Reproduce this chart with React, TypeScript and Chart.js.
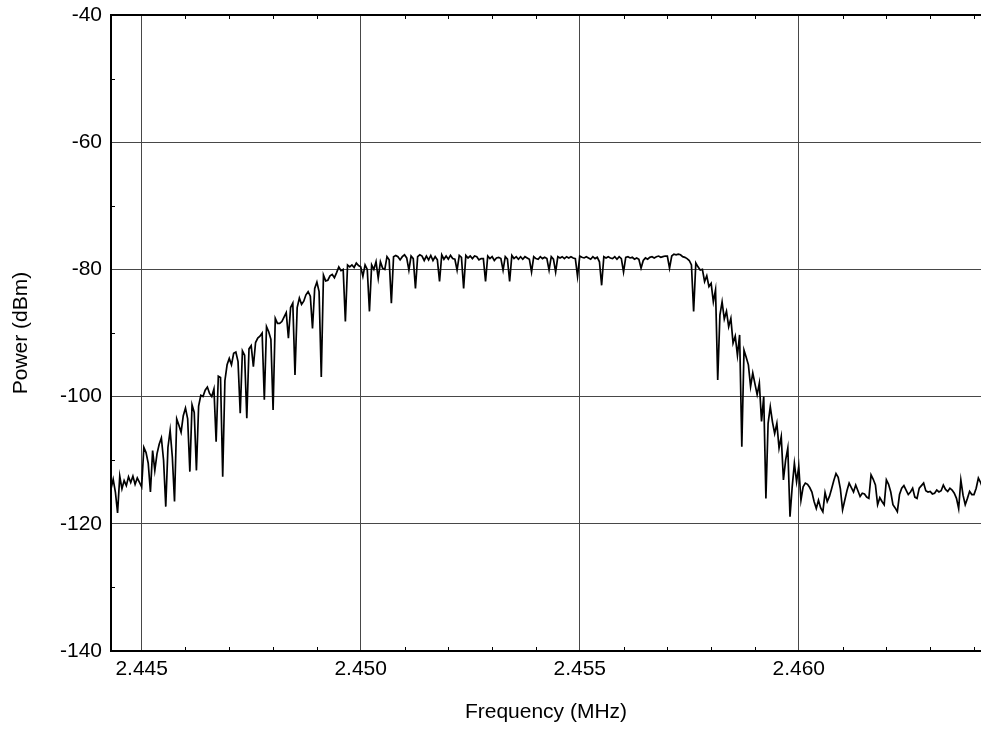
import React, { useEffect, useRef } from 'react';
import { Chart, registerables } from 'chart.js';

Chart.register(...registerables);

// Uniform frequency sweep (MHz axis units as labelled)
const FREQ_START = 2.4443;
const FREQ_STEP = 0.00005;
const X_MIN = 2.4443;
const X_MAX = 2.46416;
const Y_MIN = -140;
const Y_MAX = -40;

// Power readings (dBm), one per sweep point
const lowerSkirt = [
  -114.5, -113.0, -115.0, -118.3, -112.5, -114.5, -113.2, -114.0, -112.6, -113.5,
  -112.5, -113.8, -112.8, -113.5, -114.2, -108.0, -108.8, -110.5, -115.0, -108.5,
  -111.6, -109.0, -107.5, -106.5, -110.0, -117.3, -108.0, -105.3, -109.5, -116.5,
  -103.5, -104.5, -105.6, -103.0, -101.8, -103.5, -111.8, -101.3, -102.5, -111.6,
  -101.5, -99.8, -100.0, -99.0, -98.5, -99.5, -100.0, -98.8, -107.1, -96.8,
  -97.0, -112.6, -97.5, -95.0, -94.0, -95.0, -93.2, -93.0, -94.5, -102.6,
  -92.8, -93.5, -103.4, -92.5, -92.0, -95.3, -91.5, -90.8, -90.5, -90.0,
  -100.5, -89.0, -89.8, -91.0, -102.1, -87.7, -88.5, -88.5, -88.2, -87.5,
  -86.8, -90.8, -86.0, -85.3, -96.6, -86.0, -84.5, -85.5, -85.0, -84.0,
  -83.5, -84.2, -89.3, -83.0, -82.0, -83.5, -96.9, -80.9, -81.8, -81.7,
  -81.0, -80.8, -81.3, -80.5, -79.6, -80.2, -80.0, -88.2, -79.3, -79.6,
  -79.3, -79.7, -79.0, -79.4, -79.6, -81.1, -79.3, -80.0, -86.6, -79.3,
  -80.0, -78.8, -81.4, -78.8, -79.8, -80.0, -78.0, -78.5, -85.3, -78.0,
];

const passband = [
  -77.8, -78.0, -78.5, -78.0, -77.7, -78.2, -80.1, -77.9, -78.3, -83.0,
  -78.0, -77.7, -77.9, -78.6, -77.9, -78.5, -77.8, -78.6, -78.0, -78.5,
  -81.9, -77.7, -78.4, -77.9, -78.4, -77.8, -78.3, -78.4, -80.1, -77.8,
  -78.1, -83.0, -77.8, -78.2, -77.9, -78.3, -77.9, -78.0, -78.5, -78.3,
  -78.3, -81.9, -77.9, -78.3, -78.0, -78.6, -78.2, -78.1, -78.3, -80.1,
  -78.0, -78.4, -81.9, -77.8, -78.3, -78.0, -78.4, -78.0, -78.4, -78.0,
  -78.2, -78.4, -80.4, -78.0, -78.3, -78.4, -78.0, -78.3, -78.1, -78.3,
  -80.1, -78.0, -78.4, -80.4, -78.0, -78.2, -78.0, -78.3, -78.0, -78.2,
  -78.0, -78.2, -78.3, -81.1, -77.9, -78.1, -78.2, -78.0, -78.2, -78.4,
  -78.0, -78.3, -78.1, -78.8, -82.5, -78.0, -78.2, -78.0, -78.2, -78.3,
  -78.0, -78.4, -78.0, -78.3, -80.4, -78.1, -78.0, -78.2, -78.1, -78.4,
  -78.2, -78.4, -79.8, -78.6, -78.2, -78.4, -78.1, -78.0, -78.2, -78.0,
  -77.9, -78.1, -78.0, -77.9, -77.9, -79.8, -77.9, -77.6, -77.7, -77.6,
  -77.7, -78.0, -78.1, -78.3, -78.6, -79.3, -86.6, -79.0, -79.6, -80.1,
];

const upperSkirt = [
  -80.0, -81.9, -81.0, -82.7, -82.2, -85.1, -83.2, -97.4, -87.2, -85.1,
  -87.8, -86.6, -89.0, -87.7, -91.6, -90.5, -93.5, -90.3, -107.9, -92.7,
  -93.8, -95.0, -98.4, -96.3, -98.0, -99.7, -97.9, -103.9, -100.0, -116.0,
  -104.2, -101.6, -104.0, -105.8, -104.2, -108.1, -106.3, -113.1, -110.0, -108.1,
  -118.9, -114.2, -110.5, -113.4, -111.0, -116.3, -114.2, -113.6, -113.8, -114.3,
];

const noiseFloor = [
  -115.0, -116.5, -117.6, -116.3, -117.5, -118.1, -115.1, -116.5, -115.7, -114.5,
  -113.2, -112.1, -112.7, -114.5, -117.8, -116.3, -114.8, -113.6, -114.3, -115.0,
  -113.9, -114.8, -115.7, -115.2, -115.3, -115.8, -116.0, -112.3, -113.0, -113.9,
  -117.0, -115.9, -116.5, -117.0, -113.1, -113.8, -115.0, -117.0, -117.5, -118.1,
  -115.4, -114.4, -114.0, -114.7, -115.4, -115.0, -114.4, -115.8, -116.0, -114.4,
  -114.0, -113.6, -114.8, -115.0, -114.9, -115.3, -115.2, -114.7, -115.0, -114.8,
  -113.9, -114.6, -114.9, -114.4, -114.7, -115.2, -116.0, -117.6, -113.1, -115.5,
  -117.0, -116.0, -114.9, -115.4, -115.4, -114.4, -112.8, -113.5, -114.4, -114.0, -114.5,
];

const xTicks = [
  2.445, 2.446, 2.447, 2.448, 2.449, 2.45, 2.451, 2.452, 2.453, 2.454,
  2.455, 2.456, 2.457, 2.458, 2.459, 2.46, 2.461, 2.462, 2.463, 2.464,
];
const xMajor = [2.445, 2.45, 2.455, 2.46];
const yTicks = [-140, -130, -120, -110, -100, -90, -80, -70, -60, -50, -40];
const yMajor = [-140, -120, -100, -80, -60, -40];

const FONT = 'Liberation Sans, Arial, Helvetica, sans-serif';

const isXMajor = (v: number) => xMajor.some((m) => Math.abs(m - v) < 1e-7);
const isYMajor = (v: number) => yMajor.some((m) => Math.abs(m - v) < 1e-7);

const framePlugin = {
  id: 'frameAndMinorTicks',
  afterDatasetsDraw(chart: any) {
    const { ctx, chartArea, scales } = chart;
    const { left, top, right, bottom } = chartArea;
    const xs = scales.x;
    const ys = scales.y;
    ctx.save();
    ctx.strokeStyle = '#000';
    ctx.lineWidth = 1;
    ctx.beginPath();
    xTicks.forEach((v) => {
      if (isXMajor(v)) return;
      const px = Math.round(xs.getPixelForValue(v)) + 0.5;
      ctx.moveTo(px, bottom);
      ctx.lineTo(px, bottom - 4);
      ctx.moveTo(px, top);
      ctx.lineTo(px, top + 4);
    });
    yTicks.forEach((v) => {
      if (isYMajor(v)) return;
      const py = Math.round(ys.getPixelForValue(v)) + 0.5;
      ctx.moveTo(left, py);
      ctx.lineTo(left + 4, py);
    });
    ctx.stroke();
    ctx.lineWidth = 2;
    ctx.beginPath();
    ctx.moveTo(right + 2, top);
    ctx.lineTo(left, top);
    ctx.lineTo(left, bottom);
    ctx.lineTo(right + 2, bottom);
    ctx.stroke();
    ctx.restore();
  },
};

export default function App() {
  const canvasRef = useRef<HTMLCanvasElement | null>(null);

  useEffect(() => {
    const canvas = canvasRef.current;
    if (!canvas) return;
    const power = [...lowerSkirt, ...passband, ...upperSkirt, ...noiseFloor];
    const points = power.map((p, i) => ({
      x: +(FREQ_START + i * FREQ_STEP).toFixed(6),
      y: p,
    }));

    const chart = new Chart(canvas, {
      type: 'line',
      data: {
        datasets: [
          {
            data: points,
            borderColor: '#000',
            borderWidth: 1.7,
            pointRadius: 0,
            tension: 0,
            fill: false,
          },
        ],
      },
      options: {
        animation: false,
        responsive: false,
        maintainAspectRatio: false,
        devicePixelRatio: 1,
        layout: { padding: { top: 15, right: 0, bottom: 0, left: 0 } },
        plugins: {
          legend: { display: false },
          tooltip: { enabled: false },
        },
        scales: {
          x: {
            type: 'linear',
            min: X_MIN,
            max: X_MAX,
            afterBuildTicks: (s: any) => {
              s.ticks = xTicks.map((v) => ({ value: v }));
            },
            afterFit: (s: any) => {
              s.height = 79;
              s.paddingLeft = 0;
              s.paddingRight = 0;
            },
            border: { display: false },
            grid: {
              drawTicks: false,
              lineWidth: 1,
              color: (c: any) => (c.tick && isXMajor(c.tick.value) ? '#474747' : 'rgba(0,0,0,0)'),
            },
            ticks: {
              autoSkip: false,
              maxRotation: 0,
              padding: 6,
              color: '#000',
              font: { family: FONT, size: 21 },
              callback: (v: any) => (isXMajor(Number(v)) ? Number(v).toFixed(3) : ''),
            },
            title: {
              display: true,
              text: 'Frequency (MHz)',
              color: '#000',
              font: { family: FONT, size: 21 },
              padding: { top: 0, bottom: 5 },
            },
          },
          y: {
            type: 'linear',
            min: Y_MIN,
            max: Y_MAX,
            afterBuildTicks: (s: any) => {
              s.ticks = yTicks.map((v) => ({ value: v }));
            },
            afterFit: (s: any) => {
              s.width = 111;
              s.paddingTop = 0;
              s.paddingBottom = 0;
            },
            border: { display: false },
            grid: {
              drawTicks: false,
              lineWidth: 1,
              color: (c: any) => (c.tick && isYMajor(c.tick.value) ? '#474747' : 'rgba(0,0,0,0)'),
            },
            ticks: {
              autoSkip: false,
              padding: 9,
              color: '#000',
              font: { family: FONT, size: 21 },
              callback: (v: any) => (isYMajor(Number(v)) ? String(v) : ''),
            },
            title: {
              display: true,
              text: 'Power (dBm)',
              color: '#000',
              font: { family: FONT, size: 21 },
              padding: { top: 9, bottom: 0 },
            },
          },
        },
      },
      plugins: [framePlugin],
    });

    return () => {
      chart.destroy();
    };
  }, []);

  return (
    <div
      style={{
        position: 'fixed',
        left: 0,
        top: 0,
        width: 981,
        height: 730,
        overflow: 'hidden',
        background: '#fff',
      }}
    >
      <canvas ref={canvasRef} width={981} height={730} style={{ width: 981, height: 730, display: 'block' }} />
    </div>
  );
}
